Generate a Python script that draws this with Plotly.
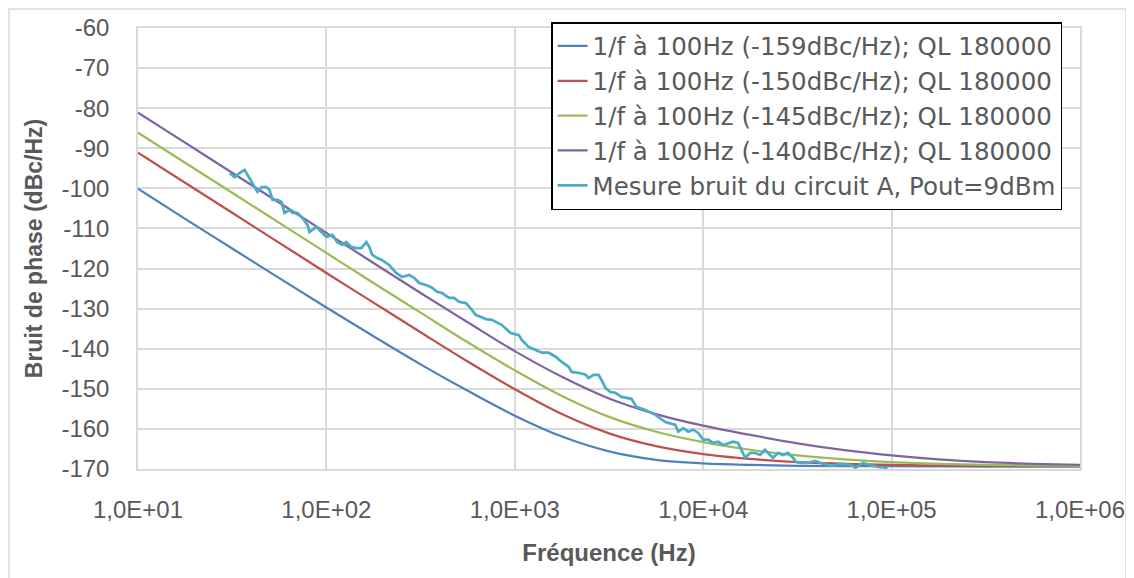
import plotly.graph_objects as go

freq_model = [10, 17.78, 31.62, 56.23, 100, 177.8, 316.2, 562.3, 1000, 1778, 3162, 5623,
              10000, 17783, 31623, 56234, 100000, 177828, 316228, 562341, 1000000]

blue_159 = [-100.1, -107.6, -115.0, -122.4, -129.7, -136.9, -143.9, -150.5, -156.7, -161.9,
            -165.6, -167.7, -168.6, -169.0, -169.2, -169.3, -169.3, -169.35, -169.4, -169.4, -169.4]
red_150 = [-91.1, -98.6, -106.1, -113.6, -121.1, -128.5, -135.9, -143.2, -150.1, -156.3,
           -161.1, -164.3, -166.3, -167.5, -168.3, -168.7, -169.0, -169.1, -169.2, -169.25, -169.3]
green_145 = [-86.1, -93.6, -101.1, -108.6, -116.1, -123.6, -131.0, -138.4, -145.4, -151.8,
             -157.0, -160.7, -163.3, -165.2, -166.6, -167.6, -168.3, -168.7, -168.95, -169.1, -169.2]
purple_140 = [-81.1, -88.6, -96.1, -103.6, -111.1, -118.6, -126.1, -133.4, -140.6, -147.0,
              -152.4, -156.3, -159.2, -161.5, -163.6, -165.3, -166.6, -167.6, -168.3, -168.7, -168.95]

# Measured phase noise of circuit A (Hz, dBc/Hz)
freq_meas = [30.7, 32.6, 34.6, 36.8, 38.2, 40.6, 43.1, 45.3, 48.1, 49.9, 51.8, 55.0, 57.8, 59.9,
             63.7, 66.1, 70.2, 74.6, 79.3, 81.3, 88.5, 91.8, 100, 107.6, 114.3, 121.5, 127.6,
             135.6, 144.1, 153.2, 162.8, 168.9, 175.2, 186.1, 197.8, 215.4, 234.6, 252.4, 274.9,
             292.2, 310.5, 338.1, 363.8, 386.6, 410.9, 447.6, 475.7, 505.5, 550.7, 592.3, 621.9,
             661.0, 702.5, 755.6, 853.6, 952.4, 1050, 1089, 1186, 1291, 1390, 1513, 1648, 1774,
             1931, 2003, 2181, 2375, 2464, 2618, 2783, 2886, 3030, 3219, 3422, 3683, 3914, 4159,
             4421, 4933, 5572, 6294, 7112, 7375, 7839, 8330, 8853, 9409, 10000, 10630, 11300,
             12010, 12760, 13560, 14410, 15320, 15890, 16690, 17740, 18850, 20030, 21280, 22080,
             23460, 24940, 26500, 28170, 29940, 31050, 33000, 35940, 39150, 42110, 47560, 53740,
             60700, 64480, 70250, 76480, 84340, 95240]
noise_meas = [-96.2, -97.2, -96.2, -95.4, -96.7, -98.7, -100.9, -99.7, -99.7, -100.4, -102.9,
              -102.9, -103.4, -106.1, -105.4, -106.1, -106.1, -107.4, -109.1, -110.9, -109.6,
              -110.4, -112.1, -111.6, -113.4, -114.1, -113.4, -114.6, -114.9, -114.9, -113.4,
              -114.6, -116.6, -117.4, -117.9, -119.1, -121.1, -122.1, -121.6, -122.3, -123.6,
              -124.1, -124.8, -125.8, -126.1, -127.3, -127.3, -128.3, -128.6, -130.3, -131.6,
              -132.1, -132.6, -132.8, -134.1, -136.1, -136.6, -137.8, -139.6, -140.3, -141.0,
              -141.0, -142.0, -143.3, -144.5, -145.8, -146.0, -146.5, -147.3, -146.5, -146.5,
              -147.8, -149.8, -150.8, -151.0, -152.0, -152.3, -152.5, -154.5, -155.3, -156.5,
              -158.3, -159.0, -160.7, -159.8, -160.7, -160.2, -161.0, -162.7, -162.7, -163.5,
              -163.2, -164.0, -163.5, -163.2, -163.5, -165.2, -167.2, -166.0, -166.0, -166.5,
              -165.2, -166.0, -167.2, -166.0, -166.5, -166.0, -167.2, -168.2, -168.5, -168.5,
              -168.0, -168.5, -169.2, -168.7, -169.0, -169.7, -168.5, -169.0, -169.5, -169.7]

names = ["1/f à 100Hz (-159dBc/Hz); QL 180000",
         "1/f à 100Hz (-150dBc/Hz); QL 180000",
         "1/f à 100Hz (-145dBc/Hz); QL 180000",
         "1/f à 100Hz (-140dBc/Hz); QL 180000",
         "Mesure bruit du circuit A, Pout=9dBm"]
colors = ["#4F81BD", "#C0504D", "#9BBB59", "#8064A2", "#4BACC6"]

x_tick_vals = [10, 100, 1000, 10000, 100000, 1000000]
x_tick_text = ["1,0E+01", "1,0E+02", "1,0E+03", "1,0E+04", "1,0E+05", "1,0E+06"]
y_tick_vals = [-60, -70, -80, -90, -100, -110, -120, -130, -140, -150, -160, -170]
y_tick_text = ["-60", "-70", "-80", "-90", "-100", "-110", "-120", "-130", "-140", "-150",
               "-160", "-170"]

FONT = "Liberation Sans, Arial, sans-serif"
LEG_FONT = "DejaVu Sans, Liberation Sans, sans-serif"
GREY = "#595959"

fig = go.Figure()
series = [blue_159, red_150, green_145, purple_140]
for i, ys in enumerate(series):
    fig.add_trace(go.Scatter(x=freq_model, y=ys, mode="lines", name=names[i],
                             line=dict(color=colors[i], width=2.25, shape="spline", smoothing=1.0)))
fig.add_trace(go.Scatter(x=freq_meas, y=noise_meas, mode="lines", name=names[4],
                         line=dict(color=colors[4], width=2.75)))

# page has an 8px body margin: figure is shrunk by 8px so the plot lands where the reference is
fig.update_layout(
    width=1126, height=570,
    margin=dict(l=130, r=54, t=20, b=109, autoexpand=False),
    paper_bgcolor="white", plot_bgcolor="white",
    font=dict(family=FONT, size=24, color=GREY),
    legend=dict(x=0.981, y=1.0136, xanchor="right", yanchor="top",
                bgcolor="white", bordercolor="black", borderwidth=1.5,
                font=dict(family=LEG_FONT, size=24.5, color=GREY),
                tracegroupgap=0, itemwidth=30),
    xaxis=dict(type="log", range=[1, 6], tickvals=x_tick_vals, ticktext=x_tick_text,
               automargin=False,
               showgrid=True, gridcolor="#D9D9D9", gridwidth=1.5,
               showline=True, linecolor="#D9D9D9", linewidth=1.5, mirror=True,
               ticks="", ticklabelstandoff=18,
               tickfont=dict(family=FONT, size=24, color=GREY),
               title=dict(text="<b>Fréquence (Hz)</b>", standoff=23,
                          font=dict(family=FONT, size=24, color=GREY))),
    yaxis=dict(range=[-170, -60], tickvals=y_tick_vals, ticktext=y_tick_text,
               automargin=False,
               showgrid=True, gridcolor="#D9D9D9", gridwidth=1.5,
               showline=True, linecolor="#D9D9D9", linewidth=1.5, mirror=True,
               zeroline=False, ticks="", ticklabelstandoff=22,
               tickfont=dict(family=FONT, size=24, color=GREY),
               title=dict(text="<b>Bruit de phase (dBc/Hz)</b>", standoff=12,
                          font=dict(family=FONT, size=23, color=GREY))),
    showlegend=True,
)

# light grey chart-area frame
fig.add_shape(type="rect", xref="paper", yref="paper",
              x0=(9 - 138) / 942, x1=(1126 - 138) / 942,
              y0=(469 - 600) / 441, y1=(469 - 9) / 441,
              line=dict(color="#D9D9D9", width=1.5), layer="below")

fig.write_html("out.html")
